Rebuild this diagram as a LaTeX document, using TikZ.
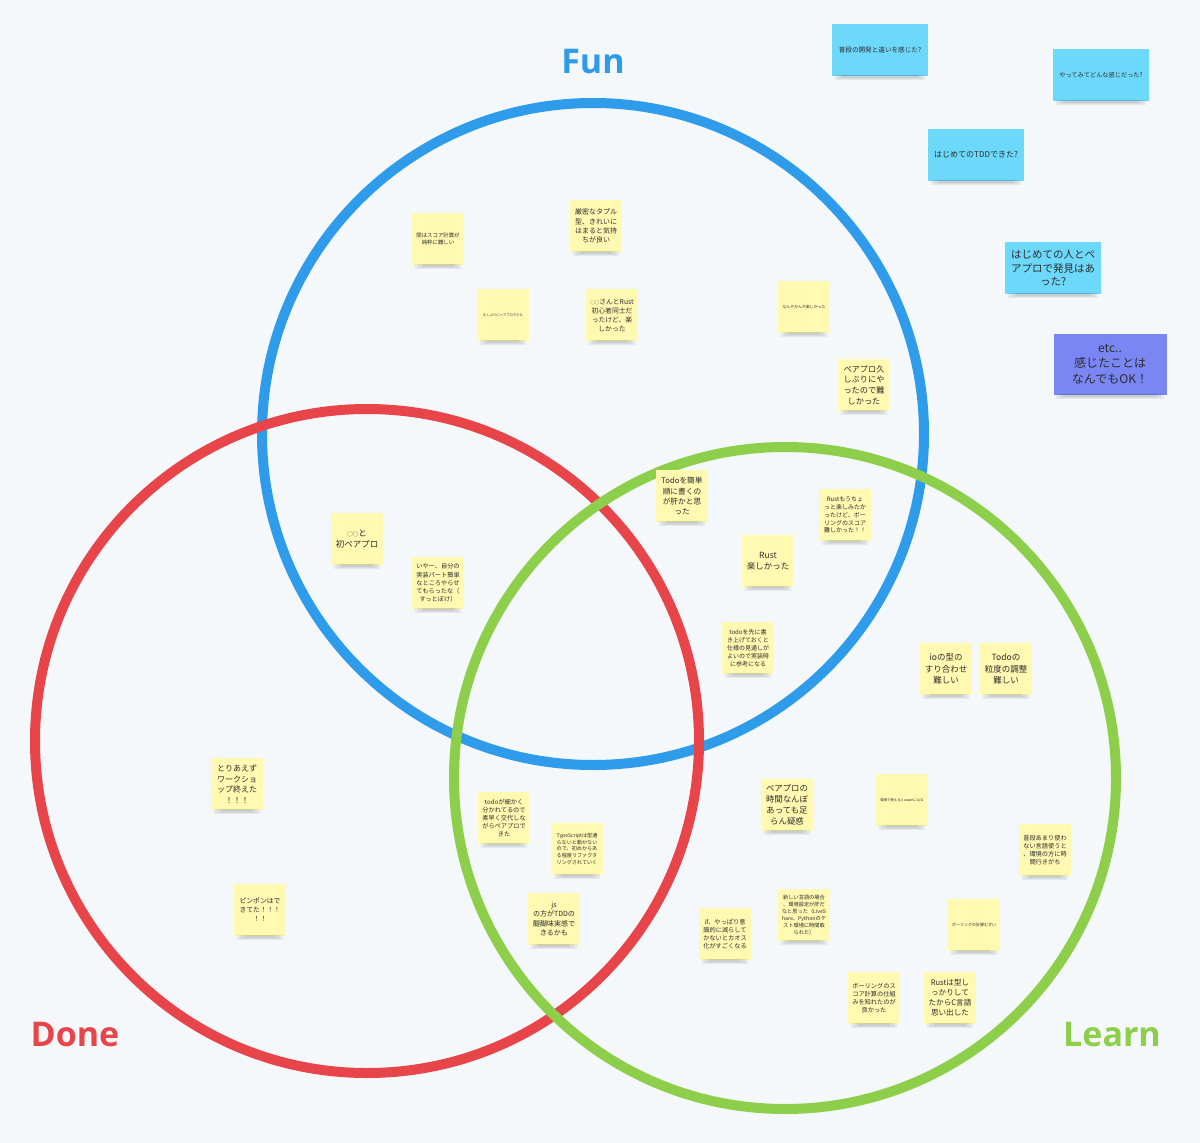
\documentclass[tikz,border=0pt]{standalone}
\usepackage{fontspec}
\newfontfamily\jp{Noto Sans CJK JP}
\newfontfamily\lab{Open Sans}
\definecolor{bgc}{RGB}{245,248,251}
\definecolor{func}{RGB}{47,155,235}
\definecolor{donec}{RGB}{232,69,75}
\definecolor{learnc}{RGB}{141,207,74}
\definecolor{stky}{RGB}{255,249,177}
\definecolor{stkb}{RGB}{108,216,250}
\definecolor{stkp}{RGB}{122,134,244}
\definecolor{txtc}{RGB}{45,45,45}
\tikzset{
  ring/.style={line width=10pt},
  notebox/.style={inner sep=1pt, align=center, text=txtc, minimum width=52pt, minimum height=52pt},
  ynote/.style={notebox, fill=stky},
  bnote/.style={notebox, fill=stkb, minimum width=96pt},
  pnote/.style={notebox, fill=stkp, minimum width=113pt, minimum height=61pt},
  shadowc/.style={fill=black, opacity=0.06},
  biglabel/.style={font=\lab\bfseries\fontsize{34}{40}\selectfont}
}
\newcommand\jf[1]{\jp\fontsize{#1}{\the\dimexpr #1pt*132/100\relax}\selectfont}
\newcommand\mcirc[1]{{\fontsize{#1}{#1}\selectfont ○○}}
\newcommand\shd[1]{%
  \fill[shadowc] ([xshift=3pt,yshift=1pt]#1.south west) rectangle ([xshift=-3pt,yshift=-4pt]#1.south east);
  \fill[shadowc] ([xshift=6pt,yshift=1pt]#1.south west) rectangle ([xshift=-6pt,yshift=-3pt]#1.south east);
  \fill[shadowc] ([xshift=10pt,yshift=1pt]#1.south west) rectangle ([xshift=-10pt,yshift=-2pt]#1.south east);}
\begin{document}
\begin{tikzpicture}[x=1pt,y=-1pt]
\fill[bgc] (0,0) rectangle (1200,1143);
\useasboundingbox (0,0) rectangle (1200,1143);
% rings
\draw[ring, func] (593,434) circle (331);
\draw[ring, donec] (367,741) circle (332);
\draw[ring, learnc] (785,778) circle (331);
% labels
\node[biglabel, text=func] (lfun) at (593,62) {Fun};
\node[biglabel, text=donec] (ldone) at (75,1035) {Done};
\node[biglabel, text=learnc] (llearn) at (1112,1035) {Learn};
% blue / purple notes
\node[bnote, font=\jf{6.6}] (b1) at (880,50) {普段の開発と違いを感じた?}; \shd{b1}
\node[bnote, font=\jf{6.2}] (b2) at (1101,75) {やってみてどんな感じだった?}; \shd{b2}
\node[bnote, font=\jf{8}] (b3) at (976,155) {はじめてのTDDできた?}; \shd{b3}
\node[bnote, font=\jf{10.5}] (b4) at (1053,268) {はじめての人とペ\\アプロで発見はあ\\った?}; \shd{b4}
\node[pnote, font=\jf{12}] (b5) at (1110,364) {etc..\\感じたことは\\なんでもOK！}; \shd{b5}
% yellow notes
\node[ynote, font=\jf{5.4}] (n1) at (438,239) {問はスコア計算が\\純粋に難しい}; \shd{n1}
\node[ynote, font=\jf{7}] (n2) at (596,226) {厳密なタプル\\型、きれいに\\はまると気持\\ちが良い}; \shd{n2}
\node[ynote, font=\jf{3.3}] (n3) at (503,315) {久しぶりにペアプロできた}; \shd{n3}
\node[ynote, font=\jf{6.8}] (n4) at (612,315) {\mcirc{4.5}さんとRust\\初心者同士だ\\ったけど、楽\\しかった}; \shd{n4}
\node[ynote, font=\jf{3.9}] (n5) at (804,307) {なんやかんや楽しかった}; \shd{n5}
\node[ynote, font=\jf{8.2}] (n6) at (864,385) {ペアプロ久\\しぶりにや\\ったので難\\しかった}; \shd{n6}
\node[ynote, font=\jf{8.5}] (n7) at (357,539) {\mcirc{5.5}と\\初ペアプロ}; \shd{n7}
\node[ynote, font=\jf{6.2}] (n8) at (438,583) {いやー、自分の\\実装パート簡単\\なところやらせ\\てもらったな（\\すっとぼけ）}; \shd{n8}
\node[ynote, font=\jf{7.7}] (n9) at (682,496) {Todoを簡単\\順に書くの\\が肝かと思\\った}; \shd{n9}
\node[ynote, font=\jf{6}] (n10) at (845,515) {Rustもうちょ\\っと楽しみたか\\ったけど、ボー\\リングのスコア\\難しかった！！}; \shd{n10}
\node[ynote, font=\jf{8.5}] (n11) at (768,561) {Rust\\楽しかった}; \shd{n11}
\node[ynote, font=\jf{6}] (n12) at (748,648) {todoを先に書\\き上げておくと\\仕様の見通しが\\よいので実装時\\に参考になる}; \shd{n12}
\node[ynote, font=\jf{8.5}] (n13) at (946,669) {ioの型の\\すり合わせ\\難しい}; \shd{n13}
\node[ynote, font=\jf{8.5}] (n14) at (1006,669) {Todoの\\粒度の調整\\難しい}; \shd{n14}
\node[ynote, font=\jf{8}] (n15) at (237,784) {とりあえず\\ワークショ\\ップ終えた\\！！！}; \shd{n15}
\node[ynote, font=\jf{6.8}] (n16) at (260,910) {ピンポンはで\\きてた！！！\\！！}; \shd{n16}
\node[ynote, font=\jf{6.2}] (n17) at (504,818) {todoが細かく\\分かれてるので\\素早く交代しな\\がらペアプロで\\きた}; \shd{n17}
\node[ynote, font=\jf{5.1}] (n18) at (577,849) {TypeScriptは型通\\らないと動かない\\ので、初めからあ\\る程度リファクタ\\リングされていく}; \shd{n18}
\node[ynote, font=\jf{7}] (n19) at (554,919) {js\\の方がTDDの\\醍醐味実感で\\きるかも}; \shd{n19}
\node[ynote, font=\jf{8.4}] (n20) at (787,805) {ペアプロの\\時間なんぼ\\あっても足\\らん疑惑}; \shd{n20}
\node[ynote, font=\jf{3.4}] (n21) at (902,800) {環境で使えるとwasmになる}; \shd{n21}
\node[ynote, font=\jf{6.2}] (n22) at (725,934) {if、やっぱり意\\識的に減らして\\かないとカオス\\化がすごくなる}; \shd{n22}
\node[ynote, font=\jf{5.2}] (n23) at (804,915) {新しい言語の場合\\、環境設定が肝だ\\なと思った（LiveS\\hare、Pythonのテ\\スト環境に時間取\\られた）}; \shd{n23}
\node[ynote, font=\jf{6.2}] (n24) at (1045,850) {普段あまり使わ\\ない言語使うと\\、環境の方に時\\間行きがち}; \shd{n24}
\node[ynote, font=\jf{4}] (n25) at (974,925) {ボーリングの計算むずい}; \shd{n25}
\node[ynote, font=\jf{6.2}] (n26) at (874,998) {ボーリングのス\\コア計算の仕組\\みを知れたのが\\良かった}; \shd{n26}
\node[ynote, font=\jf{7.6}] (n27) at (950,998) {Rustは型し\\っかりして\\たからC言語\\思い出した}; \shd{n27}
\end{tikzpicture}
\end{document}
